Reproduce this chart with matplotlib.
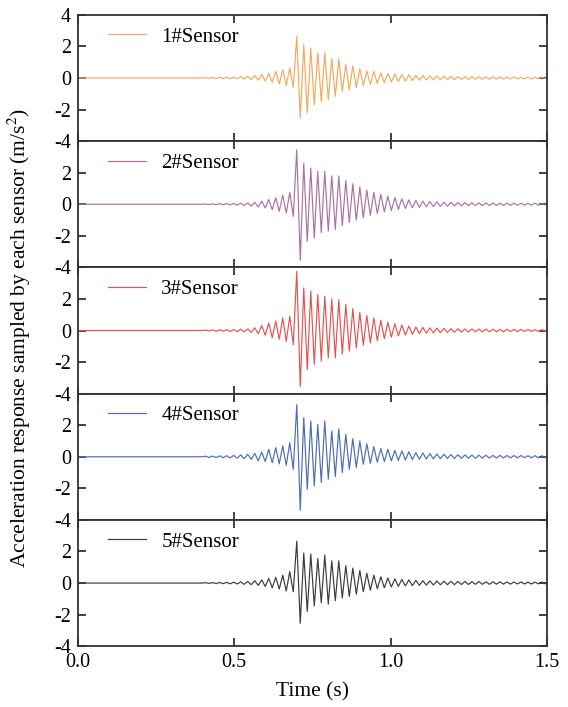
import numpy as np
import matplotlib.pyplot as plt

plt.rcParams['font.family'] = ['Liberation Serif', 'DejaVu Serif']
plt.rcParams['axes.unicode_minus'] = False
plt.rcParams['mathtext.fontset'] = 'stix'

# time of each positive peak (s): spike at 0.70 s, ~44.6 Hz ringing
t_peaks = 0.700 + 0.0224 * np.arange(-13, 36)
half = 0.0112

labels = ['1#Sensor', '2#Sensor', '3#Sensor', '4#Sensor', '5#Sensor']
colors = ['#f4a95a', '#ab72a0', '#e45352', '#4b6db2', '#3a3a3a']

# positive peak / negative trough of each cycle (m/s^2)
s1_pos = [0.02, 0.03, 0.04, 0.05, 0.06, 0.08, 0.10, 0.15, 0.22, 0.30, 0.42, 0.52, 0.63,
          2.64, 2.10, 1.90, 1.60, 1.60, 1.20, 1.20, 0.85, 0.75, 0.57, 0.45, 0.42,
          0.32, 0.28, 0.25, 0.22, 0.20, 0.17, 0.15, 0.14, 0.12, 0.11, 0.10, 0.10,
          0.09, 0.09, 0.08, 0.08, 0.08, 0.07, 0.07, 0.07, 0.06, 0.06, 0.06, 0.05]
s1_neg = [-0.02, -0.03, -0.04, -0.05, -0.06, -0.07, -0.10, -0.14, -0.20, -0.28, -0.38, -0.48, -0.60,
          -2.55, -2.20, -1.70, -1.50, -1.37, -1.16, -0.84, -0.74, -0.60, -0.48, -0.40, -0.35,
          -0.30, -0.26, -0.22, -0.20, -0.17, -0.15, -0.13, -0.12, -0.11, -0.10, -0.10, -0.09,
          -0.09, -0.08, -0.08, -0.08, -0.07, -0.07, -0.07, -0.06, -0.06, -0.06, -0.05, -0.05]

s2_pos = [0.02, 0.03, 0.04, 0.05, 0.06, 0.07, 0.09, 0.13, 0.20, 0.30, 0.42, 0.58, 0.75,
          3.45, 2.60, 2.30, 2.08, 2.08, 1.80, 1.80, 1.50, 1.30, 1.10, 0.90, 0.75,
          0.62, 0.50, 0.42, 0.35, 0.28, 0.24, 0.20, 0.17, 0.15, 0.13, 0.12, 0.11,
          0.10, 0.09, 0.09, 0.08, 0.08, 0.07, 0.07, 0.07, 0.06, 0.06, 0.06, 0.05]
s2_neg = [-0.02, -0.03, -0.04, -0.05, -0.06, -0.08, -0.12, -0.18, -0.24, -0.35, -0.45, -0.56, -0.77,
          -3.55, -2.35, -2.14, -1.80, -1.70, -1.60, -1.35, -1.15, -1.00, -0.85, -0.70, -0.58,
          -0.48, -0.40, -0.33, -0.27, -0.23, -0.20, -0.17, -0.15, -0.13, -0.12, -0.11, -0.10,
          -0.09, -0.09, -0.08, -0.08, -0.08, -0.07, -0.07, -0.07, -0.06, -0.06, -0.06, -0.05]

s3_pos = [0.03, 0.04, 0.05, 0.06, 0.07, 0.08, 0.10, 0.17, 0.32, 0.48, 0.60, 0.80, 0.90,
          3.75, 2.70, 2.50, 2.28, 2.17, 2.00, 1.96, 1.65, 1.40, 1.15, 0.95, 0.80,
          0.65, 0.52, 0.42, 0.34, 0.28, 0.23, 0.20, 0.17, 0.15, 0.13, 0.12, 0.11,
          0.10, 0.10, 0.09, 0.09, 0.08, 0.08, 0.08, 0.07, 0.07, 0.07, 0.06, 0.06]
s3_neg = [-0.03, -0.04, -0.05, -0.06, -0.07, -0.08, -0.12, -0.20, -0.30, -0.45, -0.55, -0.68, -0.90,
          -3.55, -2.47, -2.15, -1.94, -1.73, -1.73, -1.50, -1.30, -1.10, -0.92, -0.78, -0.64,
          -0.52, -0.42, -0.34, -0.28, -0.24, -0.20, -0.17, -0.15, -0.13, -0.12, -0.11, -0.10,
          -0.10, -0.09, -0.09, -0.08, -0.08, -0.08, -0.07, -0.07, -0.07, -0.06, -0.06, -0.06]

s4_pos = [0.04, 0.05, 0.06, 0.07, 0.09, 0.12, 0.16, 0.22, 0.30, 0.47, 0.58, 0.69, 0.90,
          3.30, 2.48, 2.27, 2.06, 2.27, 1.63, 1.78, 1.42, 1.15, 1.00, 0.83, 0.64,
          0.52, 0.47, 0.40, 0.36, 0.32, 0.26, 0.24, 0.20, 0.18, 0.16, 0.14, 0.13,
          0.12, 0.11, 0.10, 0.10, 0.09, 0.09, 0.08, 0.08, 0.08, 0.07, 0.07, 0.07]
s4_neg = [-0.04, -0.05, -0.06, -0.07, -0.09, -0.12, -0.16, -0.25, -0.30, -0.38, -0.45, -0.54, -0.80,
          -3.40, -2.06, -1.85, -1.63, -1.42, -1.25, -1.00, -0.79, -0.69, -0.47, -0.42, -0.35,
          -0.30, -0.26, -0.23, -0.20, -0.18, -0.16, -0.14, -0.13, -0.12, -0.11, -0.10, -0.10,
          -0.09, -0.09, -0.08, -0.08, -0.08, -0.07, -0.07, -0.07, -0.06, -0.06, -0.06, -0.06]

s5_pos = [0.02, 0.03, 0.04, 0.05, 0.06, 0.08, 0.10, 0.15, 0.20, 0.30, 0.36, 0.50, 0.72,
          2.65, 1.90, 1.84, 1.56, 1.77, 1.41, 1.41, 1.10, 0.95, 0.80, 0.62, 0.50,
          0.40, 0.32, 0.27, 0.23, 0.20, 0.17, 0.15, 0.14, 0.13, 0.12, 0.11, 0.10,
          0.10, 0.09, 0.09, 0.08, 0.08, 0.08, 0.07, 0.07, 0.07, 0.06, 0.06, 0.06]
s5_neg = [-0.02, -0.03, -0.04, -0.05, -0.06, -0.08, -0.10, -0.15, -0.22, -0.30, -0.38, -0.50, -0.55,
          -2.55, -1.80, -1.45, -1.25, -1.33, -1.12, -0.95, -0.85, -0.70, -0.55, -0.45, -0.36,
          -0.30, -0.25, -0.21, -0.18, -0.16, -0.14, -0.13, -0.12, -0.11, -0.10, -0.10, -0.09,
          -0.09, -0.08, -0.08, -0.08, -0.07, -0.07, -0.07, -0.06, -0.06, -0.06, -0.05, -0.05]

series = [(s1_pos, s1_neg), (s2_pos, s2_neg), (s3_pos, s3_neg),
          (s4_pos, s4_neg), (s5_pos, s5_neg)]


def trace(pos, neg):
    # join the peaks and troughs into one signal, quiet before and after
    t = np.column_stack([t_peaks, t_peaks + half]).ravel()
    a = np.column_stack([pos, neg]).ravel()
    t = np.concatenate([[0.0, t[0] - half], t, [1.5]])
    a = np.concatenate([[0.0, 0.0], a, [0.0]])
    return t, a


fig, axes = plt.subplots(5, 1, figsize=(5.68, 7.07), dpi=100, sharex=True)
fig.subplots_adjust(left=0.137, right=0.963, top=0.979, bottom=0.086, hspace=0)

for i, ax in enumerate(axes):
    t, a = trace(*series[i])
    ax.plot(t, a, color=colors[i], lw=0.85, label=labels[i])
    ax.set_xlim(0, 1.5)
    ax.set_ylim(-4, 4)
    ax.set_yticks([-4, -2, 0, 2, 4])
    ax.set_yticklabels(['-4', '-2', '0', '2', '4' if i == 0 else ''])
    ax.set_xticks([0.0, 0.5, 1.0, 1.5])
    ax.tick_params(direction='in', top=True, right=True, length=6, width=1.3,
                   labelsize=14.5, pad=5, color='#333333')
    for sp in ax.spines.values():
        sp.set_linewidth(1.3)
        sp.set_color('#333333')
    ax.legend(loc='upper left', frameon=False, fontsize=15, handlelength=1.8,
              handletextpad=0.75, borderaxespad=0.0, bbox_to_anchor=(0.047, 0.97))

axes[-1].set_xticklabels(['0.0', '0.5', '1.0', '1.5'])
axes[-1].set_xlabel('Time (s)', fontsize=15.5, labelpad=7)
fig.text(0.034, 0.522, 'Acceleration response sampled by each sensor (m/s$^2$)',
         rotation=90, ha='center', va='center', fontsize=15.5)

fig.savefig('out.png', dpi=100)
